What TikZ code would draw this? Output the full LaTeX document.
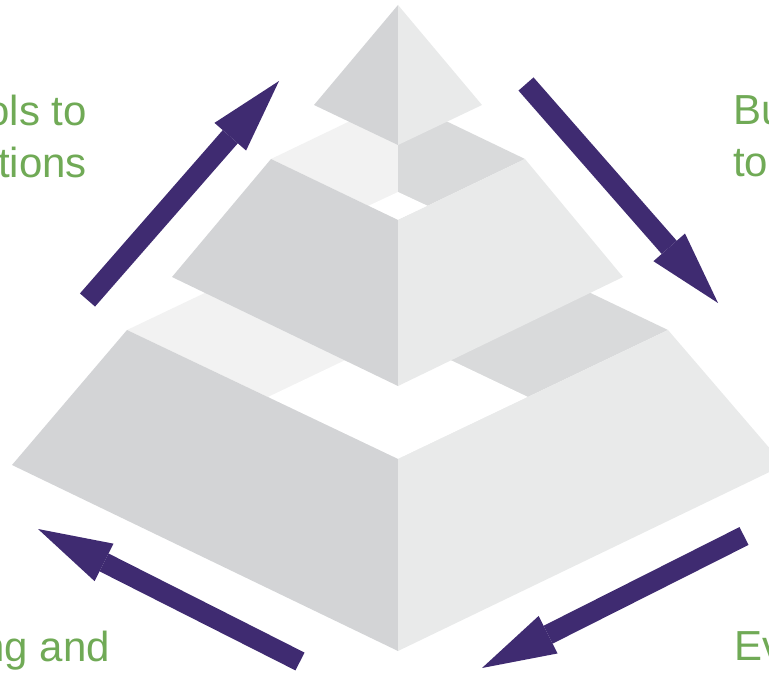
\documentclass[tikz,border=0pt]{standalone}
\usepackage{fontspec}
\setmainfont{Liberation Sans}
\usetikzlibrary{arrows.meta}
\definecolor{faceL}{HTML}{D3D4D6}
\definecolor{faceR}{HTML}{E9EAEA}
\definecolor{topL}{HTML}{F2F2F2}
\definecolor{topR}{HTML}{D9DADB}
\definecolor{cyclepurple}{HTML}{3F2B71}
\definecolor{labelgreen}{HTML}{70AA56}

\begin{document}
\begin{tikzpicture}[x=1pt,y=-1pt,
   cyclearrow/.style={draw=cyclepurple, line width=20pt,
      -{Triangle[length=74pt,width=42pt,line width=0pt]}},
   lbl/.style={text=labelgreen, inner sep=0pt,
      font=\fontsize{42}{52}\selectfont}]
   \clip (0,0) rectangle (769,674);

   \fill[topL]  (127,330) -- (398,201) -- (398,459) -- cycle;
   \fill[topR]  (398,201) -- (668,330) -- (398,459) -- cycle;
   \fill[white] (268,397) -- (398,335) -- (528,397) -- (398,459) -- cycle;
   \fill[faceL] (127,330) -- (398,459) -- (398,651) -- (12,465) -- cycle;
   \fill[faceR] (398,459) -- (668,330) -- (784,465) -- (398,651) -- cycle;

   \fill[topL]  (271,159) -- (398,98) -- (398,220) -- cycle;
   \fill[topR]  (398,98) -- (525,159) -- (398,220) -- cycle;
   \fill[white] (368,206) -- (398,192) -- (428,206) -- (398,220) -- cycle;
   \fill[faceL] (271,159) -- (398,220) -- (398,386) -- (172,277) -- cycle;
   \fill[faceR] (398,220) -- (525,159) -- (623,277) -- (398,386) -- cycle;

   \fill[faceL] (398,5) -- (314,105) -- (398,145) -- cycle;
   \fill[faceR] (398,5) -- (398,145) -- (482,105) -- cycle;

   \coordinate (upS)    at (87.5,300);
   \coordinate (upE)    at (279,81);
   \coordinate (downS)  at (526,84);
   \coordinate (downE)  at (718,303);
   \coordinate (evalS)  at (744,536);
   \coordinate (evalE)  at (482,668);
   \coordinate (learnS) at (300,661.5);
   \coordinate (learnE) at (38,529);

   \draw[cyclearrow] (upS) -- (upE);
   \draw[cyclearrow] (downS) -- (downE);
   \draw[cyclearrow] (evalS) -- (evalE);
   \draw[cyclearrow] (learnS) -- (learnE);

   \node[lbl, align=right, anchor=north east] (tools) at (87,95) {ols to\\tions};
   \node[lbl, align=left, anchor=north west] (build) at (733,95) {Bu\\to};
   \node[lbl, anchor=base east] (learn) at (110,661) {ng and};
   \node[lbl, anchor=base west] (eval) at (734,660) {Ev};
\end{tikzpicture}
\end{document}
